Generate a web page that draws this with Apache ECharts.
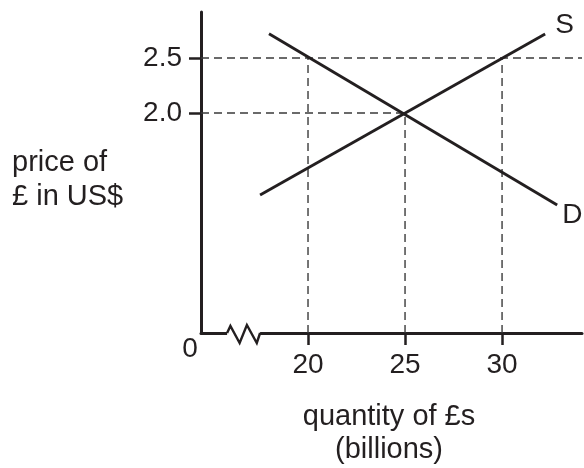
<!DOCTYPE html>
<html><head><meta charset="utf-8">
<script src="https://cdn.jsdelivr.net/npm/echarts@6/dist/echarts.min.js"></script>
<style>html,body{margin:0;padding:0;background:#fff}#c{width:584px;height:468px}</style>
</head><body><div id="c"></div>
<script>
// ---- data ----
const xTicks = [20, 25, 30];
const yTicks = [2.0, 2.5];
const supply = [[17.53, 1.255], [32.22, 2.718]];
const demand = [[17.99, 2.72], [32.84, 1.164]];
const equilibrium = [25, 2.0];
const highPrice = 2.5;
const demandAtHigh = 20;
const supplyAtHigh = 30;
const xRange = [14.485, 34.12];
const yRange = [0, 2.918];
const axisBreak = [15.83, 17.53];
const yName = 'price of\n£ in US$';
const xName = 'quantity of £s\n(billions)';

const ink = '#231f20';
const dashInk = '#3a3a3a';
const font = "'Liberation Sans', Arial, Helvetica, sans-serif";

const chart = echarts.init(document.getElementById('c'), null, {renderer: 'canvas'});

function dashed(data) {
  return {
    type: 'line', data: data, symbol: 'none', silent: true, z: 1,
    lineStyle: {color: dashInk, width: 1.4, type: [8, 5]}
  };
}

const option = {
  animation: false,
  backgroundColor: '#fff',
  grid: {left: 201, right: 2, top: 12, bottom: 135, containLabel: false},
  xAxis: {
    type: 'value', min: xRange[0], max: xRange[1],
    axisLine: {show: true, lineStyle: {color: ink, width: 3}},
    axisTick: {show: true, customValues: xTicks, length: 12, lineStyle: {color: ink, width: 2.5}},
    axisLabel: {show: true, customValues: xTicks, margin: 18, color: ink, fontSize: 28, fontFamily: font},
    splitLine: {show: false}
  },
  yAxis: {
    type: 'value', min: yRange[0], max: yRange[1],
    axisLine: {show: true, lineStyle: {color: ink, width: 3}},
    axisTick: {show: true, customValues: yTicks, length: 12, lineStyle: {color: ink, width: 2.5}},
    axisLabel: {show: true, customValues: yTicks, margin: 19, color: ink, fontSize: 28, fontFamily: font,
      formatter: v => Number(v).toFixed(1)},
    splitLine: {show: false}
  },
  series: [
    dashed([[xRange[0], highPrice], [xRange[1], highPrice]]),
    dashed([[xRange[0], equilibrium[1]], [equilibrium[0], equilibrium[1]]]),
    dashed([[demandAtHigh, 0], [demandAtHigh, highPrice]]),
    dashed([[equilibrium[0], 0], [equilibrium[0], equilibrium[1]]]),
    dashed([[supplyAtHigh, 0], [supplyAtHigh, highPrice]]),
    {
      type: 'line', name: 'S', data: supply, symbol: 'none', z: 3,
      lineStyle: {color: ink, width: 2.9},
      endLabel: {show: true, formatter: 'S', color: ink, fontSize: 28, fontFamily: font, distance: 0, offset: [10, -9]}
    },
    {
      type: 'line', name: 'D', data: demand, symbol: 'none', z: 3,
      lineStyle: {color: ink, width: 2.9},
      endLabel: {show: true, formatter: 'D', color: ink, fontSize: 28, fontFamily: font, distance: 0, offset: [5, 10]}
    }
  ]
};
chart.setOption(option);

// axis-break zigzag and origin label positioned through the chart's own scales
const origin = chart.convertToPixel({gridIndex: 0}, [xRange[0], 0]);
const p0 = chart.convertToPixel({gridIndex: 0}, [axisBreak[0], 0]);
const p1 = chart.convertToPixel({gridIndex: 0}, [axisBreak[1], 0]);
const w = p1[0] - p0[0];
const fr = [0, 0.1, 0.38, 0.6, 0.9, 1];
const dy = [0, -7, 10, -8, 10, 0];
const pts = fr.map((f, i) => [p0[0] + f * w, p0[1] + dy[i]]);
chart.setOption({
  graphic: [
    {type: 'text', x: 12, y: 180, z: 100,
      style: {text: yName, font: '29px ' + font, fill: ink, align: 'left', verticalAlign: 'middle', lineHeight: 34}},
    {type: 'text', x: 389, y: 433, z: 100,
      style: {text: xName, font: '29px ' + font, fill: ink, align: 'center', verticalAlign: 'middle', lineHeight: 33}},
    {type: 'rect', z: 100, shape: {x: p0[0], y: p0[1] - 3, width: w, height: 6}, style: {fill: '#fff'}},
    {type: 'polyline', z: 101, shape: {points: pts}, style: {stroke: ink, lineWidth: 2.4, fill: null, lineJoin: 'miter'}},
    {type: 'text', x: origin[0] - 11, y: origin[1] + 16, z: 100,
      style: {text: '0', font: '28px ' + font, fill: ink, align: 'center', verticalAlign: 'middle'}}
  ]
});
</script>
</body></html>
